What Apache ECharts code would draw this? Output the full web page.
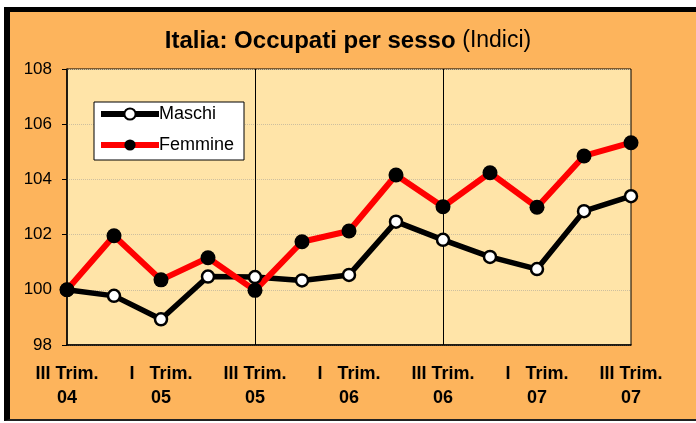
<!DOCTYPE html>
<html>
<head>
<meta charset="utf-8">
<script src="https://cdn.jsdelivr.net/npm/echarts@6/dist/echarts.min.js"></script>
<style>
  html, body { margin: 0; padding: 0; background: #fff; overflow: hidden; }
  .frame {
    position: absolute; left: 4px; top: 7px; width: 700px; height: 414px;
    background: #FDB45C; box-sizing: border-box;
    border-left: 6px solid #000; border-top: 5px solid #000; border-bottom: 2px solid #222;
  }
  #chart { position: absolute; left: 0; top: 0; width: 696px; height: 423px; }
</style>
</head>
<body>
<div class="frame"></div>
<div id="chart"></div>
<script>
// trimestri dal III 2004 al III 2007
const periods = ['III-04', 'IV-04', 'I-05', 'II-05', 'III-05', 'IV-05', 'I-06', 'II-06', 'III-06', 'IV-06', 'I-07', 'II-07', 'III-07']
const tickLabels = ['III Trim.\n04', '', 'I   Trim.\n05', '', 'III Trim.\n05', '', 'I   Trim.\n06', '', 'III Trim.\n06', '', 'I   Trim.\n07', '', 'III Trim.\n07']
const maschi = [100, 99.78, 98.93, 100.48, 100.46, 100.34, 100.54, 102.47, 101.81, 101.19, 100.75, 102.85, 103.39]
const femmine = [100, 101.96, 100.36, 101.16, 99.98, 101.74, 102.13, 104.16, 103.01, 104.24, 102.99, 104.85, 105.33]

const font = '"Liberation Sans", Arial, sans-serif'
const chart = echarts.init(document.getElementById('chart'))

chart.setOption({
  backgroundColor: 'transparent',
  animation: false,
  title: {
    left: 'center',
    top: 24,
    text: '{b|Italia: Occupati per sesso} {n|(Indici)}',
    textStyle: {
      fontFamily: font,
      fontSize: 24,
      fontWeight: 'bold',
      color: '#000',
      rich: {
        b: { fontFamily: font, fontSize: 24, fontWeight: 'bold', color: '#000' },
        n: { fontFamily: font, fontSize: 23, fontWeight: 'normal', color: '#000' }
      }
    }
  },
  legend: {
    orient: 'vertical',
    left: 94,
    top: 102,
    padding: [3, 10, 6, 4],
    itemGap: 13,
    itemWidth: 58,
    itemHeight: 14,
    backgroundColor: '#fff',
    borderColor: '#000',
    borderWidth: 1,
    borderRadius: 0,
    lineStyle: { width: 6 },
    textStyle: { fontFamily: font, fontSize: 18, color: '#000', padding: [0, 0, 0, -5] },
    data: ['Maschi', 'Femmine']
  },
  grid: {
    left: 67,
    right: 65,
    top: 69,
    bottom: 78,
    show: true,
    backgroundColor: '#FFE4A8',
    borderColor: '#000',
    borderWidth: 1
  },
  xAxis: {
    type: 'category',
    data: periods,
    boundaryGap: false,
    axisLine: { lineStyle: { color: '#000', width: 1.5 } },
    axisTick: { show: false },
    axisLabel: {
      interval: 0,
      margin: 17,
      fontFamily: font,
      fontSize: 18,
      fontWeight: 'bold',
      color: '#000',
      lineHeight: 24,
      formatter: (v, i) => tickLabels[i]
    },
    splitLine: {
      show: true,
      interval: (i) => i === 4 || i === 8,
      lineStyle: { color: '#000', width: 1 }
    }
  },
  yAxis: {
    type: 'value',
    min: 98,
    max: 108,
    interval: 2,
    axisLine: { show: true, lineStyle: { color: '#000', width: 1.5 } },
    axisTick: { show: true, length: 5, lineStyle: { color: '#000' } },
    axisLabel: { margin: 15, fontFamily: font, fontSize: 17, color: '#000' },
    splitLine: { lineStyle: { color: '#cdbf9f', type: 'dotted', width: 1 } }
  },
  series: [
    {
      name: 'Maschi',
      type: 'line',
      data: maschi,
      symbol: 'circle',
      symbolSize: 12,
      showAllSymbol: true,
      lineStyle: { color: '#000', width: 5.5 },
      itemStyle: { color: '#fff', borderColor: '#000', borderWidth: 2.5 }
    },
    {
      name: 'Femmine',
      type: 'line',
      data: femmine,
      symbol: 'circle',
      symbolSize: 15,
      showAllSymbol: true,
      lineStyle: { color: '#FF0000', width: 6 },
      itemStyle: { color: '#000', borderColor: '#000', borderWidth: 0 }
    }
  ]
})
</script>
</body>
</html>
